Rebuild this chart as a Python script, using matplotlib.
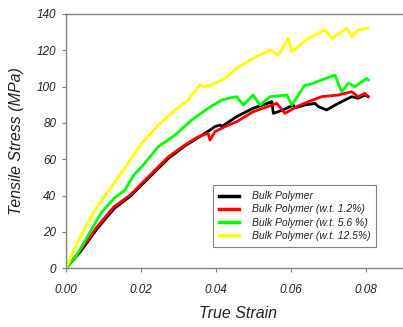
import matplotlib
matplotlib.use("Agg")
import matplotlib.pyplot as plt

plt.rcParams['font.family'] = ['Liberation Sans', 'DejaVu Sans']
plt.rcParams['font.style'] = 'italic'

# strain / stress
bulk_x = [0, 0.0039, 0.0083, 0.0128, 0.0171, 0.0229, 0.0273, 0.0317, 0.0353, 0.0384,
          0.0397, 0.0411, 0.0415, 0.0455, 0.0499, 0.0549, 0.0553, 0.0579, 0.0606, 0.0611,
          0.0637, 0.0664, 0.0673, 0.0695, 0.0726, 0.0762, 0.0779, 0.0797, 0.0806]
bulk_y = [0, 9.3, 21.8, 32.8, 39.6, 51.5, 60.5, 67.4, 72.0, 76.1,
          78.0, 78.9, 78.0, 83.5, 88.1, 91.7, 85.3, 87.2, 89.9, 88.4,
          89.9, 90.8, 89.0, 87.2, 90.8, 94.5, 93.6, 95.4, 94.5]

wt12_x = [0, 0.0039, 0.0083, 0.0128, 0.0171, 0.0229, 0.0273, 0.0317, 0.0353, 0.0379,
          0.0384, 0.0397, 0.0424, 0.0455, 0.0499, 0.0562, 0.0584, 0.0615, 0.0646, 0.0682,
          0.0726, 0.0762, 0.0779, 0.0797, 0.0806]
wt12_y = [0, 10.1, 22.9, 33.9, 40.3, 52.3, 61.4, 67.9, 72.5, 74.3,
          70.6, 75.2, 78.0, 80.7, 86.2, 90.8, 85.3, 89.0, 91.7, 94.5,
          95.4, 97.2, 94.5, 96.3, 94.5]

wt56_x = [0, 0.0026, 0.0057, 0.0093, 0.0128, 0.0157, 0.0181, 0.0202, 0.0246, 0.0291,
          0.0335, 0.0379, 0.0415, 0.0455, 0.0473, 0.0499, 0.0517, 0.0544, 0.0589, 0.0602,
          0.0637, 0.0646, 0.0682, 0.0717, 0.0735, 0.0753, 0.0771, 0.0802, 0.0806]
wt56_y = [0, 6.4, 17.4, 30.3, 38.5, 43.1, 51.4, 55.9, 66.9, 73.4,
          81.6, 88.1, 92.7, 94.5, 89.9, 95.4, 89.9, 94.5, 95.4, 89.9,
          100.9, 100.9, 103.7, 106.4, 97.2, 101.9, 100.0, 104.6, 103.7]

wt125_x = [0, 0.0021, 0.0048, 0.0083, 0.0128, 0.0177, 0.0202, 0.0246, 0.0291, 0.0326,
           0.0357, 0.0371, 0.0397, 0.0424, 0.0455, 0.0499, 0.0544, 0.0566, 0.0593, 0.0602,
           0.0624, 0.0646, 0.0691, 0.0709, 0.0749, 0.0762, 0.0779, 0.0806]
wt125_y = [0, 10.1, 21.1, 33.9, 46.8, 61.4, 68.8, 78.9, 87.2, 92.7,
           100.9, 100.0, 101.9, 104.6, 110.1, 115.6, 120.2, 117.4, 126.6, 119.2,
           122.9, 126.6, 131.3, 126.6, 132.1, 127.5, 131.3, 132.1]

labels = ['Bulk Polymer', 'Bulk Polymer (w.t. 1.2%)',
          'Bulk Polymer (w.t. 5.6 %)', 'Bulk Polymer (w.t. 12.5%)']
colors = ['#000000', '#ff0000', '#00ff00', '#ffff00']

fig = plt.figure(figsize=(4.03, 3.27), dpi=100)
ax = fig.add_axes([66 / 403, 1 - 268.3 / 327, 337.5 / 403, 254.3 / 327])

series = [(bulk_x, bulk_y), (wt12_x, wt12_y), (wt56_x, wt56_y), (wt125_x, wt125_y)]
for (xs, ys), c, lab in zip(series, colors, labels):
    ax.plot(xs, ys, color=c, lw=2.0, label=lab)

ax.set_xlim(0, 0.09)
ax.set_ylim(0, 140)
ax.set_xticks([0, 0.02, 0.04, 0.06, 0.08])
ax.set_xticklabels(['0.00', '0.02', '0.04', '0.06', '0.08'])
ax.set_yticks(range(0, 141, 20))

for s in ['left', 'bottom', 'top']:
    ax.spines[s].set_color('#808080')
    ax.spines[s].set_linewidth(1.0)
ax.spines['right'].set_visible(False)
ax.tick_params(axis='both', colors='#808080', labelcolor='#222222',
               labelsize=8.5, length=3, direction='out')
ax.tick_params(axis='x', pad=8)
ax.tick_params(axis='y', pad=4)
ax.tick_params(top=False, right=False)

ax.set_xlabel('True Strain', fontsize=11.5, color='#222222')
ax.set_ylabel('Tensile Stress (MPa)', fontsize=11.5, color='#222222')
ax.xaxis.set_label_coords(0.51, -0.15)
ax.yaxis.set_label_coords(-0.125, 0.5)

leg = ax.legend(loc='lower left', bbox_to_anchor=(0.4356, 0.084), fontsize=7.5,
                frameon=True, fancybox=False, edgecolor='#808080', framealpha=1,
                handlelength=1.9, handletextpad=1.2, labelspacing=0.3,
                borderpad=0.6, borderaxespad=0)
leg.get_frame().set_linewidth(0.8)
for line in leg.get_lines():
    line.set_linewidth(2.5)
for t in leg.get_texts():
    t.set_color('#222222')

fig.savefig('out.png', dpi=100)
